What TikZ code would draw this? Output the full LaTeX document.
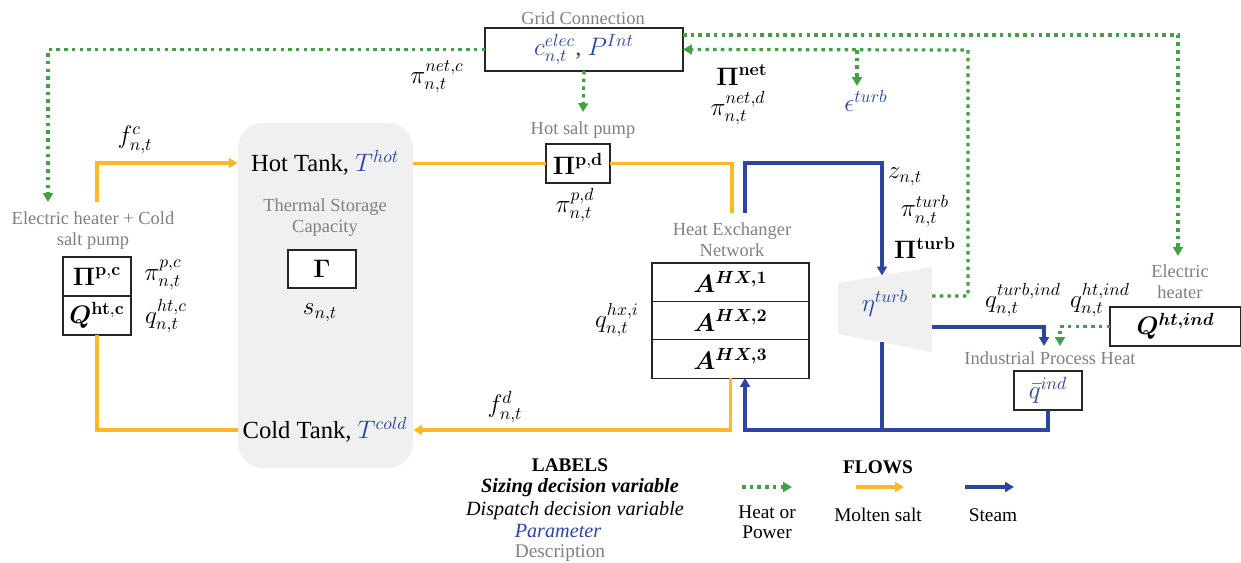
\documentclass[tikz,border=0pt]{standalone}
\usepackage[no-math]{fontspec}
\setmainfont{Liberation Serif}
\usepackage{amsmath}
\usepackage{bm}
\usepackage{xcolor}
\usetikzlibrary{arrows.meta,positioning}
\definecolor{saltorange}{RGB}{253,184,39}
\definecolor{steamblue}{RGB}{43,69,160}
\definecolor{powergreen}{RGB}{67,160,71}
\definecolor{descgray}{RGB}{128,128,128}
\definecolor{tankgray}{RGB}{240,240,240}
\newcommand{\param}[1]{{\color{steamblue}#1}}

\begin{document}
\begin{tikzpicture}[x=0.02cm,y=-0.02cm,>={Triangle[length=5pt,width=5.5pt]},
  font=\fontsize{14}{16}\selectfont,inner sep=1pt]
  \tikzstyle{salt}=[draw=saltorange,line width=2pt]
  \tikzstyle{steam}=[draw=steamblue,line width=2pt]
  \tikzstyle{power}=[draw=powergreen,line width=1.8pt,dash pattern=on 2pt off 2.4pt]
  \tikzstyle{box}=[draw=black!85,line width=0.6pt,fill=white,inner sep=0pt,outer sep=0pt]
  \tikzstyle{desc}=[text=descgray,font=\fontsize{10.5}{12}\selectfont,align=center]
  \tikzstyle{legend}=[font=\fontsize{11}{11.5}\selectfont,align=center]

  \useasboundingbox (0,0) rectangle (1241,563);

  \node[fill=tankgray,rounded corners=0.5cm,minimum width=3.5cm,minimum height=6.9cm] (tank) at (325.5,295.5) {};
  \node (hot)  at (325,163) {Hot Tank, \param{$T^{hot}$}};
  \node (cold) at (325,430) {Cold Tank, \param{$T^{cold}$}};
  \node[desc] (tslab) at (325,218) {Thermal Storage\\Capacity};
  \node[box,minimum width=1.36cm,minimum height=0.76cm] (gamma) at (322,269) {$\mathbf{\Gamma}$};
  \node (snt) at (320,313) {$s_{n,t}$};

  \node[desc] (ehlab) at (93,231) {Electric heater + Cold\\salt pump};
  \node[box,minimum width=1.36cm,minimum height=0.78cm] (pc) at (97,276.5) {$\mathbf{\Pi^{p,c}}$};
  \node[box,minimum width=1.36cm,minimum height=0.78cm,below=0pt of pc] (htc) {$\bm{Q}^{\mathbf{ht,c}}$};
  \node (pipc) at (163,275) {$\pi^{p,c}_{n,t}$};
  \node (qhtc) at (166,316) {$q^{ht,c}_{n,t}$};
  \node (fc) at (135,140) {$f^{c}_{n,t}$};

  \node[box,minimum width=3.96cm,minimum height=0.86cm] (grid) at (584,49.5) {\param{$c^{elec}_{n,t}$, $P^{Int}$}};
  \node[desc] (gridlab) at (583,18) {Grid Connection};
  \node (pinetc) at (437,77) {$\pi^{net,c}_{n,t}$};
  \node (Pinet) at (742,75) {$\mathbf{\Pi^{net}}$};
  \node (pinetd) at (738,108) {$\pi^{net,d}_{n,t}$};
  \node (eps) at (866,101) {\param{$\epsilon^{turb}$}};

  \node[desc] (hsplab) at (583,130) {Hot salt pump};
  \node[box,minimum width=1.28cm,minimum height=0.78cm] (pd) at (578,163.5) {$\mathbf{\Pi^{p,d}}$};
  \node (pipd) at (575,205) {$\pi^{p,d}_{n,t}$};

  \node[desc] (hxlab) at (732,240) {Heat Exchanger\\Network};
  \node[box,minimum width=3.14cm,minimum height=0.767cm] (hx1) at (730.5,282.2) {$\bm{A^{HX,1}}$};
  \node[box,minimum width=3.14cm,minimum height=0.767cm,below=0pt of hx1] (hx2) {$\bm{A^{HX,2}}$};
  \node[box,minimum width=3.14cm,minimum height=0.767cm,below=0pt of hx2] (hx3) {$\bm{A^{HX,3}}$};
  \node (qhx) at (617,320) {$q^{hx,i}_{n,t}$};
  \node (fd) at (505,407) {$f^{d}_{n,t}$};

  \fill[tankgray] (838,283) -- (932,267) -- (932,352) -- (838,334) -- cycle;
  \node (turb) at (885,303) {\param{$\eta^{turb}$}};
  \node (znt) at (905,177) {$z_{n,t}$};
  \node (piturb) at (925,211) {$\pi^{turb}_{n,t}$};
  \node (Piturb) at (925,248) {$\mathbf{\Pi^{turb}}$};
  \coordinate (turbin) at (882,275.5);
  \coordinate (turbout) at (882,342.5);
  \coordinate (turbpow) at (932,296);
  \coordinate (turbheat) at (932,327);

  \node[desc] (iphlab) at (1050,358) {Industrial Process Heat};
  \node[box,minimum width=1.36cm,minimum height=0.78cm] (qind) at (1048,390.5) {\param{$\bar{q}^{ind}$}};
  \node[desc] (ehindlab) at (1180,282) {Electric\\heater};
  \node[box,minimum width=2.62cm,minimum height=0.78cm] (htind) at (1175.5,326.5) {$\bm{Q^{ht,ind}}$};
  \node (qturbind) at (1023,300) {$q^{turb,ind}_{n,t}$};
  \node (qhtind) at (1100,300) {$q^{ht,ind}_{n,t}$};

  \coordinate (ehsalt) at (97,202);
  \coordinate (hxsalt) at (732,213);
  \coordinate (hxsteam) at (745,378);
  \coordinate (steamtop) at (882,163);
  \coordinate (ipsteam) at (1044,346);
  \coordinate (ippower) at (1060,346);
  \coordinate (ehpower) at (48,202);
  \coordinate (ehindpower) at (1178,256);
  \coordinate (turbret) at (968,50);
  \coordinate (epsbranch) at (857,50);
  \coordinate (epsin) at (857,86);
  \coordinate (hsppower) at (583,112);

  \draw[salt,->] (ehsalt) |- (tank.west |- hot);
  \draw[salt] (htc.south) |- (tank.west |- cold);
  \draw[salt] (tank.east |- pd) -- (pd.west);
  \draw[salt] (pd.east) -| (hxsalt);
  \draw[salt,->] (hx3.south) |- (tank.east |- cold);

  \draw[steam,->] (hxsalt -| hxsteam) |- (steamtop) -- (turbin);
  \draw[steam] (turbout) -- (turbout |- cold);
  \draw[steam,->] (qind.south) |- (cold -| hxsteam) -- (hxsteam);
  \draw[steam,->] (turbheat) -| (ipsteam);

  \draw[power,->] (grid.west) -| (ehpower);
  \draw[power,->] ([yshift=-0.14cm]grid.north east) -| (ehindpower);
  \draw[power,->] (turbpow) -| (turbret) -- (grid.east);
  \draw[power,->] (epsbranch) -- (epsin);
  \draw[power,->] (grid.south) -- (hsppower);
  \draw[power,->] (htind.west) -| (ippower);

  \node[legend,font=\bfseries\fontsize{11}{12}\selectfont] (labels) at (570,465) {LABELS};
  \node[legend,font=\bfseries\itshape\fontsize{11.5}{12}\selectfont] (sizing) at (580,488) {Sizing decision variable};
  \node[legend,font=\itshape\fontsize{11.5}{12}\selectfont] (dispatch) at (575,511) {Dispatch decision variable};
  \node[legend,font=\itshape\fontsize{11.5}{12}\selectfont,text=steamblue] (paramlab) at (558,531) {Parameter};
  \node[desc,font=\fontsize{11}{12}\selectfont] (descr) at (560,553) {Description};
  \node[legend,font=\bfseries\fontsize{11}{12}\selectfont] (flows) at (878,467) {FLOWS};
  \coordinate (lgpowa) at (742,487);
  \coordinate (lgpowb) at (792,487);
  \coordinate (lgsalta) at (856,487);
  \coordinate (lgsaltb) at (904,487);
  \coordinate (lgsteama) at (965,487);
  \coordinate (lgsteamb) at (1014,487);
  \draw[power,->] (lgpowa) -- (lgpowb);
  \draw[salt,->] (lgsalta) -- (lgsaltb);
  \draw[steam,->] (lgsteama) -- (lgsteamb);
  \node[legend] (heatpow) at (767,522) {Heat or\\Power};
  \node[legend] (molten) at (878,515) {Molten salt};
  \node[legend] (steamlab) at (993,515) {Steam};
\end{tikzpicture}
\end{document}
